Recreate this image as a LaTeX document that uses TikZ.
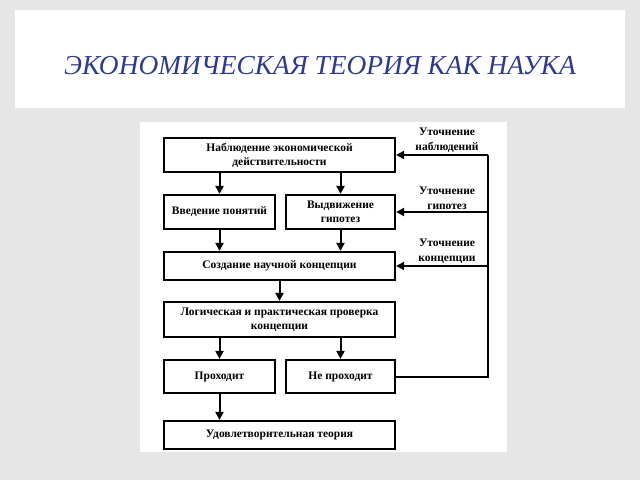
\documentclass[tikz,border=0pt]{standalone}
\usepackage{fontspec}
\setmainfont{Liberation Serif}
\usetikzlibrary{arrows.meta}
\definecolor{bggray}{HTML}{E6E6E6}
\definecolor{titleblue}{HTML}{2E3A8E}
\begin{document}
\begin{tikzpicture}[x=1pt,y=-1pt,
  box/.style={draw=black, line width=2.2pt, fill=white, inner sep=0pt,
    font=\bfseries\fontsize{11.5}{14}\selectfont, align=center},
  arr/.style={line width=2pt, -{Triangle[length=8pt,width=8pt]}},
  fline/.style={line width=2pt},
  lab/.style={font=\bfseries\fontsize{11.5}{15}\selectfont, align=center, inner sep=0pt}]
% background
\fill[bggray] (0,0) rectangle (640,480);
\useasboundingbox (0,0) rectangle (640,480);
\node[fill=white, minimum width=610pt, minimum height=98pt, inner sep=0pt] (tbox) at (320,59) {};
\node[text=titleblue, font=\itshape\fontsize{27.4}{30}\selectfont] (title) at (320,66) {ЭКОНОМИЧЕСКАЯ ТЕОРИЯ КАК НАУКА};
\node[fill=white, minimum width=367pt, minimum height=330pt, inner sep=0pt] (panel) at (323.5,287) {};
% boxes
\node[box, minimum width=231pt, minimum height=34pt] (b1) at (279.5,155) {Наблюдение экономической\\действительности};
\node[box, minimum width=111pt, minimum height=34pt] (b2) at (219.5,212) {Введение понятий};
\node[box, minimum width=109pt, minimum height=34pt] (b3) at (340.5,212) {Выдвижение\\гипотез};
\node[box, minimum width=231pt, minimum height=28pt] (b4) at (279.5,266) {Создание научной концепции};
\node[box, minimum width=231pt, minimum height=35pt] (b5) at (279.5,319.5) {Логическая и практическая проверка\\концепции};
\node[box, minimum width=111pt, minimum height=33pt] (b6) at (219.5,376.5) {Проходит};
\node[box, minimum width=109pt, minimum height=33pt] (b7) at (340.5,376.5) {Не проходит};
\node[box, minimum width=231pt, minimum height=28pt] (b8) at (279.5,435) {Удовлетворительная теория};
% arrows
\draw[arr] (b1.south -| b2.north) -- (b2.north);
\draw[arr] (b1.south -| b3.north) -- (b3.north);
\draw[arr] (b2.south) -- (b2.south |- b4.north);
\draw[arr] (b3.south) -- (b3.south |- b4.north);
\draw[arr] (b4.south) -- (b5.north);
\draw[arr] (b5.south -| b6.north) -- (b6.north);
\draw[arr] (b5.south -| b7.north) -- (b7.north);
\draw[arr] (b6.south) -- (b8.north -| b6.south);
% feedback
\coordinate (ftop) at (488,155);
\coordinate (fbot) at (488,376.5);
\draw[fline] (b7.east) -- (fbot) -- (ftop);
\draw[arr] (ftop) -- (b1.east);
\draw[arr] (b3.east -| ftop) -- (b3.east);
\draw[arr] (b4.east -| ftop) -- (b4.east);
% labels
\node[lab] (l1) at (447,140.5) {Уточнение\\наблюдений};
\node[lab] (l2) at (447,198) {Уточнение\\гипотез};
\node[lab] (l3) at (447,251.5) {Уточнение\\концепции};
\end{tikzpicture}
\end{document}
